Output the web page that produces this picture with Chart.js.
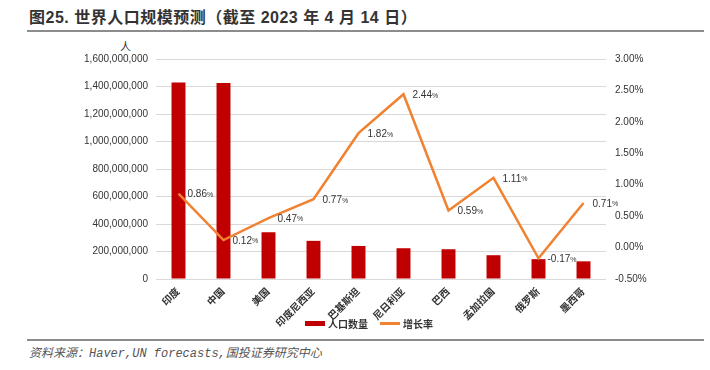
<!DOCTYPE html>
<html>
<head>
<meta charset="utf-8">
<script src="https://cdn.jsdelivr.net/npm/chart.js@4"></script>
<style>
  html, body { margin: 0; padding: 0; background: #fff; }
  body { width: 710px; height: 370px; position: relative; overflow: hidden;
         font-family: "Liberation Sans", "Noto Sans CJK SC", sans-serif; }
  #title { position: absolute; left: 29px; top: 4px; font-size: 16px; font-weight: bold;
           color: #333; letter-spacing: 0.5px; white-space: nowrap; }
  .rule { position: absolute; left: 27px; width: 677px; height: 2px; background: #8c8c8c; }
  #unit { position: absolute; left: 120px; top: 38px; font-size: 11px; color: #333; }
  #source { position: absolute; left: 29px; top: 343px; font-size: 12px; color: #555;
            font-style: italic; font-family: "Liberation Mono", "Noto Sans CJK SC", monospace; white-space: nowrap; }
  #wrap { position: absolute; left: 0; top: 36px; width: 710px; height: 302px; }
  #legend { position: absolute; top: 316px; left: 305px; font-size: 10px; font-weight: bold; color: #333;
            display: flex; align-items: center; white-space: nowrap; }
  #legend span.box { display: inline-block; width: 20px; margin-right: 3px; }
</style>
</head>
<body>
<div id="title">图25. 世界人口规模预测（截至 2023 年 4 月 14 日）</div>
<div class="rule" style="top:30px"></div>
<div id="unit">人</div>
<div id="wrap"><canvas id="chart"></canvas></div>
<div id="legend"></div>
<div class="rule" style="top:339px"></div>
<div id="source">资料来源：Haver,UN forecasts,国投证券研究中心</div>

<script>
// data
const countries = ["印度", "中国", "美国", "印度尼西亚", "巴基斯坦", "尼日利亚", "巴西", "孟加拉国", "俄罗斯", "墨西哥"];
const population = [1428600000, 1425700000, 340000000, 277500000, 240500000, 223800000, 216400000, 173000000, 144400000, 128500000];
const growth = [0.86, 0.12, 0.47, 0.77, 1.82, 2.44, 0.59, 1.11, -0.17, 0.71];

const RED = "#c00000";
const ORANGE = "#f08232";
const TEXT = "#333";

// percent labels to the right of each line point
const lineLabels = {
  id: "lineLabels",
  afterDatasetsDraw(chart) {
    const ctx = chart.ctx;
    const meta = chart.getDatasetMeta(1);
    ctx.save();
    ctx.fillStyle = TEXT;
    ctx.textBaseline = "middle";
    ctx.textAlign = "left";
    meta.data.forEach((pt, i) => {
      const num = growth[i].toFixed(2);
      let x = pt.x + 9;
      ctx.font = "10px 'Liberation Sans', sans-serif";
      ctx.fillText(num, x, pt.y + 1);
      x += ctx.measureText(num).width;
      ctx.font = "7px 'Liberation Sans', sans-serif";
      ctx.fillText("%", x, pt.y + 1.5);
    });
    ctx.restore();
  }
};

const chart = new Chart(document.getElementById("chart"), {
  data: {
    labels: countries,
    datasets: [
      {
        type: "bar",
        label: "人口数量",
        data: population,
        backgroundColor: RED,
        yAxisID: "y",
        barPercentage: 0.62,
        categoryPercentage: 0.5,
        order: 2
      },
      {
        type: "line",
        label: "增长率",
        data: growth,
        borderColor: ORANGE,
        backgroundColor: ORANGE,
        borderWidth: 2.5,
        pointRadius: 0,
        tension: 0,
        yAxisID: "y1",
        order: 1
      }
    ]
  },
  options: {
    responsive: true,
    maintainAspectRatio: false,
    animation: false,
    layout: { padding: { left: 22, top: 23, right: 0, bottom: 0 } },
    plugins: {
      legend: { display: false },
      tooltip: { enabled: false }
    },
    scales: {
      x: {
        grid: { display: false },
        border: { display: false },
        ticks: {
          color: TEXT,
          font: { size: 10, weight: "bold", family: "'Liberation Sans', 'Noto Sans CJK SC', sans-serif" },
          minRotation: 45,
          maxRotation: 45,
          autoSkip: false,
          padding: -1
        },
        afterFit(scale) { scale.height = 59; }
      },
      y: {
        position: "left",
        min: 0,
        max: 1600000000,
        grid: { color: "#d9d9d9", drawTicks: false },
        border: { display: false },
        ticks: {
          stepSize: 200000000,
          color: TEXT,
          padding: 8,
          font: { size: 10, family: "'Liberation Sans', sans-serif" },
          callback: v => v.toLocaleString("en-US")
        },
        afterFit(scale) { scale.width = 134; }
      },
      y1: {
        position: "right",
        min: -0.5,
        max: 3,
        grid: { display: false, drawTicks: false },
        border: { display: false },
        ticks: {
          stepSize: 0.5,
          color: TEXT,
          padding: 9,
          font: { size: 10, family: "'Liberation Sans', sans-serif" },
          callback: v => v.toFixed(2) + "%"
        },
        afterFit(scale) { scale.width = 104; }
      }
    }
  },
  plugins: [lineLabels]
});

// legend from the datasets
const legend = document.getElementById("legend");
chart.data.datasets.forEach((ds, i) => {
  const box = document.createElement("span");
  box.className = "box";
  box.style.height = ds.type === "bar" ? "5px" : "3px";
  box.style.background = ds.type === "bar" ? ds.backgroundColor : ds.borderColor;
  if (i > 0) box.style.marginLeft = "12px";
  const txt = document.createElement("span");
  txt.textContent = ds.label;
  legend.appendChild(box);
  legend.appendChild(txt);
});
</script>
</body>
</html>
